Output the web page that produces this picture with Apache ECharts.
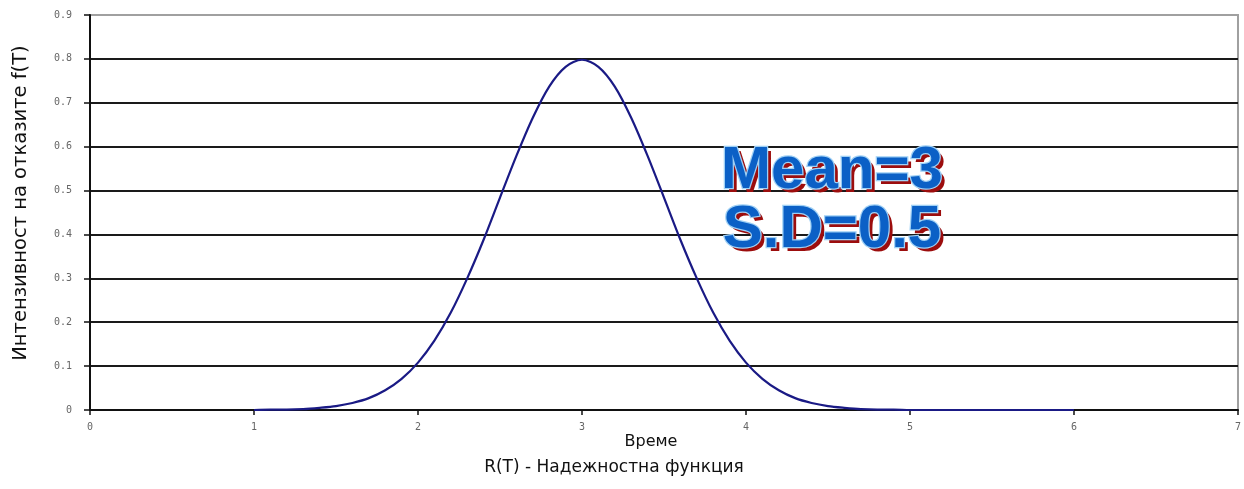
<!DOCTYPE html>
<html>
<head>
<meta charset="utf-8">
<script src="https://cdn.jsdelivr.net/npm/echarts@6/dist/echarts.min.js"></script>
<style>
html,body{margin:0;padding:0;background:#fff;}
#chart{width:1244px;height:489px;}
</style>
</head>
<body>
<div id="chart"></div>
<script>
// Data
const timeValues = [1.0,1.1,1.2,1.3,1.4,1.5,1.6,1.7,1.8,1.9,
  2.0,2.1,2.2,2.3,2.4,2.5,2.6,2.7,2.8,2.9,
  3.0,3.1,3.2,3.3,3.4,3.5,3.6,3.7,3.8,3.9,
  4.0,4.1,4.2,4.3,4.4,4.5,4.6,4.7,4.8,4.9,
  5.0,5.1,5.2,5.3,5.4,5.5,5.6,5.7,5.8,5.9,6.0];
const densityValues = [0.000,0.001,0.001,0.002,0.005,0.009,0.016,0.027,0.045,0.071,
  0.108,0.158,0.222,0.300,0.388,0.484,0.579,0.666,0.737,0.782,
  0.798,0.782,0.737,0.666,0.579,0.484,0.388,0.300,0.222,0.158,
  0.108,0.071,0.045,0.027,0.016,0.009,0.005,0.002,0.001,0.001,
  0.000,0.000,0.000,0.000,0.000,0.000,0.000,0.000,0.000,0.000,0.000];
const xTicks = {min: 0, max: 7, interval: 1};
const yTicks = {min: 0, max: 0.9, interval: 0.1};
const yTitle = 'Интензивност на отказите f(T)';
const xTitle1 = 'Време';
const xTitle2 = 'R(T) - Надежностна функция';
const noteLines = ['Mean=3', 'S.D=0.5'];

const chart = echarts.init(document.getElementById('chart'), null, {renderer: 'canvas'});
const seriesData = timeValues.map((t, i) => [t, densityValues[i]]);

const labelStyle = {color: '#666', fontSize: 10, fontFamily: '"DejaVu Sans Mono", monospace'};

function wordArt(text, cx, cy) {
  const font = 'bold 60px "Liberation Sans", Arial, sans-serif';
  return [
    {type: 'text', x: cx + 4, y: cy + 4, z: 50,
     style: {text: text, font: font, fill: '#9c0d0d', align: 'center', verticalAlign: 'middle'}},
    {type: 'text', x: cx, y: cy, z: 51,
     style: {text: text, font: font, fill: '#0b60c6', stroke: '#9fd0f5', lineWidth: 2.5,
             align: 'center', verticalAlign: 'middle'}}
  ];
}

chart.setOption({
  animation: false,
  backgroundColor: '#fff',
  grid: {left: 90, right: 6, top: 15, bottom: 79, show: true, borderColor: '#a0a0a0', borderWidth: 2, backgroundColor: 'transparent'},
  xAxis: {
    type: 'value', min: xTicks.min, max: xTicks.max, interval: xTicks.interval,
    axisLine: {show: true, onZero: false, lineStyle: {color: '#111', width: 2}},
    axisTick: {show: true, length: 5, lineStyle: {color: '#111', width: 1.5}},
    axisLabel: Object.assign({margin: 12}, labelStyle),
    splitLine: {show: false}
  },
  yAxis: {
    type: 'value', min: yTicks.min, max: yTicks.max, interval: yTicks.interval,
    axisLine: {show: true, lineStyle: {color: '#111', width: 2}},
    axisTick: {show: true, length: 6, lineStyle: {color: '#111', width: 1.5}},
    axisLabel: Object.assign({margin: 18}, labelStyle),
    splitLine: {show: true, showMaxLine: false, lineStyle: {color: '#1a1a1a', width: 2}}
  },
  series: [{
    type: 'line',
    data: seriesData,
    smooth: 0.3,
    showSymbol: false,
    lineStyle: {color: '#1a1a85', width: 2.2},
    z: 5
  }],
  graphic: [
    {type: 'text', x: 21, y: 203, rotation: Math.PI / 2,
     style: {text: yTitle, font: '19.5px "DejaVu Sans", sans-serif', fill: '#111', align: 'center', verticalAlign: 'middle'}},
    {type: 'text', x: 651, y: 442,
     style: {text: xTitle1, font: '16px "DejaVu Sans", sans-serif', fill: '#111', align: 'center', verticalAlign: 'middle'}},
    {type: 'text', x: 614, y: 468,
     style: {text: xTitle2, font: '17px "DejaVu Sans", sans-serif', fill: '#111', align: 'center', verticalAlign: 'middle'}}
  ].concat(wordArt(noteLines[0], 832, 171)).concat(wordArt(noteLines[1], 832, 230))
});
</script>
</body>
</html>
